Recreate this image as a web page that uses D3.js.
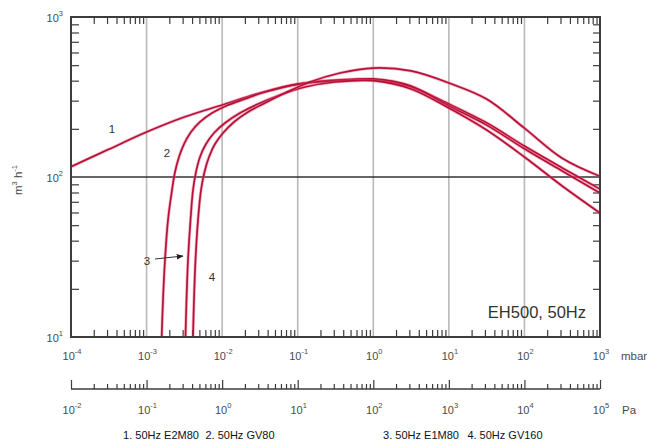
<!DOCTYPE html>
<html><head><meta charset="utf-8">
<script src="https://cdn.jsdelivr.net/npm/d3@7"></script>
<style>
body{margin:0;background:#fff}
svg{display:block}
text{font-family:"Liberation Sans",Arial,sans-serif}
</style>
</head><body>
<svg id="chart" width="664" height="441"></svg>
<script>
// Axis decades
const mbarTicks = [1e-4, 1e-3, 1e-2, 1e-1, 1e0, 1e1, 1e2, 1e3];
const paTicks = [1e-2, 1e-1, 1e0, 1e1, 1e2, 1e3, 1e4, 1e5];
const speedTicks = [10, 100, 1000];
const seriesNames = ["1. 50Hz E2M80", "2. 50Hz GV80", "3. 50Hz E1M80", "4. 50Hz GV160"];
const curveLabels = ["1", "2", "3", "4"];

// Pumping speed (m³/h) against inlet pressure (mbar)
const e2m80P = [1e-4, 3.16e-4, 1e-3, 3.16e-3, 1e-2, 3.16e-2, 0.1, 0.316, 1, 3.16, 10, 31.6, 100, 316, 1000];
const e2m80S = [116, 149, 191, 237, 282, 335, 381, 404, 405, 365, 286, 218, 156, 114, 84];

const gv80P = [1.575e-3, 1.649e-3, 1.753e-3, 1.921e-3, 2.170e-3, 2.378e-3, 2.686e-3, 3.128e-3, 3.871e-3, 5.093e-3, 7.34e-3, 0.01125, 0.02007, 0.0369, 0.1, 0.316, 1, 3.16, 10, 31.6, 100, 316, 1000];
const gv80S = [9, 17.0, 30.3, 53.8, 82.9, 107.5, 133.4, 160.7, 191.1, 220.7, 251.2, 278.1, 307.4, 339.8, 381, 400, 410, 370, 278, 211, 150, 109, 79.4];

const e1m80P = [3.254e-3, 3.375e-3, 3.534e-3, 3.814e-3, 4.115e-3, 4.509e-3, 5.093e-3, 6.114e-3, 7.80e-3, 0.01091, 0.01723, 0.02982, 0.0583, 0.1249, 0.3114, 1, 3.16, 10, 31.6, 100, 316, 1000];
const e1m80S = [9, 17.0, 30.3, 53.8, 82.9, 107.5, 133.4, 160.7, 188.4, 217.5, 251.2, 285.8, 325.3, 365.2, 392.4, 400, 355, 270, 196.7, 133.4, 87.9, 59.6];

const gv160P = [4.091e-3, 4.242e-3, 4.440e-3, 4.792e-3, 5.253e-3, 5.843e-3, 6.70e-3, 8.04e-3, 0.01027, 0.01435, 0.02199, 0.0369, 0.06788, 0.1454, 0.3627, 1, 3.16, 10, 31.6, 100, 316, 1000];
const gv160S = [9, 17.0, 30.3, 53.8, 82.9, 107.5, 133.4, 160.7, 188.4, 220.7, 254.8, 290.1, 335, 392.4, 446.7, 479.6, 460, 387, 307, 202, 131, 101];

const series = [
  {p: e2m80P, s: e2m80S},
  {p: gv80P, s: gv80S},
  {p: e1m80P, s: e1m80S},
  {p: gv160P, s: gv160S}
];

const svg = d3.select("#chart");
const L = 71, R = 600, T = 17, B = 337, paY = 389;
const axisCol = "#3c3c3c", textCol = "#4a4a4a";

const x = d3.scaleLog().domain([1e-4, 1e3]).range([L, R]);
const xPa = d3.scaleLog().domain([1e-2, 1e5]).range([L, R]);
const y = d3.scaleLog().domain([10, 1000]).range([B, T]);

function minors(decades) {
  const out = [];
  decades.slice(0, -1).forEach(d => { for (let k = 2; k <= 9; k++) out.push(d * k); });
  return out;
}

// vertical decade grid lines
svg.append("g").selectAll("line").data(mbarTicks.slice(1, -1)).join("line")
  .attr("x1", d => x(d)).attr("x2", d => x(d)).attr("y1", T).attr("y2", B)
  .attr("stroke", "#b9b9b9").attr("stroke-width", 1.6);

// horizontal line at 100 m³/h
svg.append("line").attr("x1", L).attr("x2", R).attr("y1", y(100)).attr("y2", y(100))
  .attr("stroke", "#333").attr("stroke-width", 1.5);

// inward minor ticks on all four sides
function styleAxis(g) {
  g.select(".domain").remove();
  g.selectAll(".tick line").attr("stroke", axisCol).attr("stroke-width", 1.2);
  g.selectAll(".tick text").remove();
}
svg.append("g").attr("transform", `translate(0,${B})`)
  .call(d3.axisBottom(x).tickValues(minors(mbarTicks)).tickSize(-7).tickFormat(() => "")).call(styleAxis);
svg.append("g").attr("transform", `translate(0,${T})`)
  .call(d3.axisTop(x).tickValues(minors(mbarTicks)).tickSize(-7).tickFormat(() => "")).call(styleAxis);
svg.append("g").attr("transform", `translate(${L},0)`)
  .call(d3.axisLeft(y).tickValues(minors(speedTicks)).tickSize(-8).tickFormat(() => "")).call(styleAxis);
svg.append("g").attr("transform", `translate(${R},0)`)
  .call(d3.axisRight(y).tickValues(minors(speedTicks)).tickSize(-7).tickFormat(() => "")).call(styleAxis);

// curves
const clip = svg.append("clipPath").attr("id", "plotclip");
clip.append("rect").attr("x", L).attr("y", T).attr("width", R - L).attr("height", B - T);
const line = d3.line().x(d => x(d[0])).y(d => y(d[1])).curve(d3.curveCatmullRom.alpha(0.5));
const cg = svg.append("g").attr("clip-path", "url(#plotclip)");
series.forEach(sr => {
  const pts = sr.p.map((p, i) => [p, sr.s[i]]);
  cg.append("path").attr("d", line(pts)).attr("fill", "none")
    .attr("stroke", "#f25a78").attr("stroke-width", 3.2).attr("stroke-opacity", 0.45);
  cg.append("path").attr("d", line(pts)).attr("fill", "none")
    .attr("stroke", "#b3123a").attr("stroke-width", 1.7);
});

// frame
svg.append("rect").attr("x", L).attr("y", T).attr("width", R - L).attr("height", B - T)
  .attr("fill", "none").attr("stroke", axisCol).attr("stroke-width", 2);

// power-of-ten labels
function pow10(sel, v) {
  const e = Math.round(Math.log10(v));
  sel.append("tspan").text("10");
  sel.append("tspan").attr("font-size", 7.5).attr("dy", -6).text(e);
}
mbarTicks.forEach(v => {
  svg.append("text").attr("x", x(v) + 1).attr("y", 360).attr("text-anchor", "middle")
    .attr("font-size", 11).attr("fill", textCol).call(pow10, v);
});
speedTicks.forEach(v => {
  svg.append("text").attr("x", 63).attr("y", y(v) + 5).attr("text-anchor", "end")
    .attr("font-size", 11).attr("fill", textCol).call(pow10, v);
});
svg.append("text").attr("x", 621).attr("y", 360).attr("font-size", 11.5).attr("fill", textCol).text("mbar");

// pascal scale
svg.append("line").attr("x1", L).attr("x2", R).attr("y1", paY).attr("y2", paY)
  .attr("stroke", axisCol).attr("stroke-width", 1.6);
svg.append("g").attr("transform", `translate(0,${paY})`)
  .call(d3.axisBottom(xPa).tickValues(minors(paTicks)).tickSize(-5).tickFormat(() => "")).call(styleAxis);
svg.append("g").attr("transform", `translate(0,${paY})`)
  .call(d3.axisBottom(xPa).tickValues(paTicks).tickSize(-9).tickFormat(() => "")).call(styleAxis);
paTicks.forEach(v => {
  svg.append("text").attr("x", xPa(v) + 1).attr("y", 414).attr("text-anchor", "middle")
    .attr("font-size", 11).attr("fill", textCol).call(pow10, v);
});
svg.append("text").attr("x", 622).attr("y", 414).attr("font-size", 11.5).attr("fill", textCol).text("Pa");

// y axis title
const yt = svg.append("text").attr("transform", "translate(22,180) rotate(-90)")
  .attr("text-anchor", "middle").attr("font-size", 11.5).attr("fill", textCol);
yt.append("tspan").text("m");
yt.append("tspan").attr("font-size", 7.5).attr("dy", -5).text("3");
yt.append("tspan").attr("dy", 5).text(" h");
yt.append("tspan").attr("font-size", 7.5).attr("dy", -5).text("-1");

// curve numbers
const numPos = [[112, 133], [167, 157], [147, 265], [212, 281]];
curveLabels.forEach((t, i) => {
  svg.append("text").attr("x", numPos[i][0]).attr("y", numPos[i][1]).attr("text-anchor", "middle")
    .attr("font-size", 11.5).attr("fill", "#333").text(t);
});
svg.append("defs").append("marker").attr("id", "arr").attr("viewBox", "0 0 10 10")
  .attr("refX", 9).attr("refY", 5).attr("markerWidth", 7).attr("markerHeight", 7).attr("orient", "auto")
  .append("path").attr("d", "M0,1L10,5L0,9Z").attr("fill", "#222");
svg.append("line").attr("x1", 155).attr("y1", 259).attr("x2", 183).attr("y2", 256)
  .attr("stroke", "#333").attr("stroke-width", 1).attr("marker-end", "url(#arr)");

// model caption
svg.append("text").attr("x", 586).attr("y", 318).attr("text-anchor", "end")
  .attr("font-size", 16.5).attr("fill", "#333").text("EH500, 50Hz");

// legend
const legX = [161, 240, 421, 505];
seriesNames.forEach((n, i) => {
  svg.append("text").attr("x", legX[i]).attr("y", 439).attr("text-anchor", "middle")
    .attr("font-size", 11).attr("fill", "#111").text(n);
});
</script>
</body></html>
